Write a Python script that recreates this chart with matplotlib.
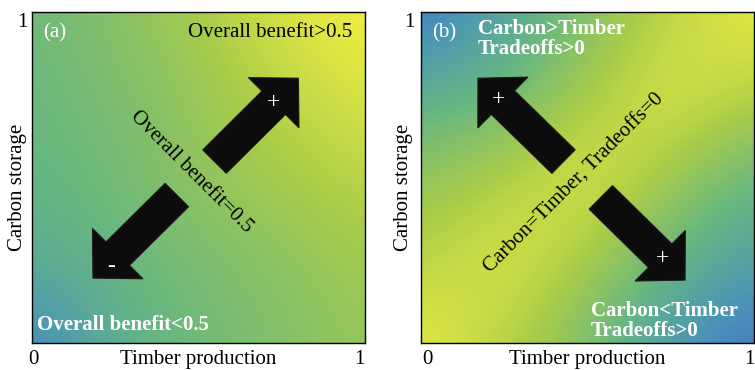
import numpy as np
import matplotlib
matplotlib.use("Agg")
import matplotlib.pyplot as plt
from matplotlib.colors import LinearSegmentedColormap

plt.rcParams['font.family'] = ['Liberation Serif', 'DejaVu Serif']

# ---- data ----
panel_labels = ["(a)", "(b)"]
x_label = "Timber production"
y_label = "Carbon storage"
tick_labels = ["0", "1"]

# background fields at nodes 0, .25, .5, .75, 1
# (rows: top -> bottom, cols: left -> right)
benefit_grid = np.array([
    [0.52, 0.62, 0.75, 0.92, 1.00],
    [0.50, 0.57, 0.68, 0.82, 0.93],
    [0.48, 0.53, 0.66, 0.74, 0.82],
    [0.40, 0.50, 0.56, 0.64, 0.72],
    [0.12, 0.42, 0.53, 0.60, 0.68],
])
tradeoff_grid = np.array([
    [0.05, 0.33, 0.60, 0.82, 0.97],
    [0.42, 0.50, 0.75, 0.95, 0.80],
    [0.65, 0.78, 0.95, 0.72, 0.48],
    [0.80, 0.95, 0.75, 0.48, 0.30],
    [0.97, 0.80, 0.58, 0.24, 0.06],
])

# arrows: (tail_x, tail_y, tip_x, tip_y, sign, sign_x, sign_y)
arrows_a = [(0.548, 0.548, 0.80, 0.80, "+", 0.724, 0.725),
            (0.435, 0.447, 0.183, 0.196, "-", 0.237, 0.23)]
arrows_b = [(0.428, 0.548, 0.171, 0.80, "+", 0.234, 0.737),
            (0.54, 0.44, 0.793, 0.19, "+", 0.724, 0.254)]

texts_a = [
    dict(s="Overall benefit>0.5", x=0.961, y=0.937, color="black", weight="normal", ha="right", rot=0),
    dict(s="Overall benefit<0.5", x=0.015, y=0.054, color="white", weight="bold", ha="left", rot=0),
    dict(s="Overall benefit=0.5", x=0.477, y=0.517, color="black", weight="normal", ha="center", rot=-45),
]
texts_b = [
    dict(s="Carbon>Timber\nTradeoffs>0", x=0.171, y=0.918, color="white", weight="bold", ha="left", rot=0),
    dict(s="Carbon<Timber\nTradeoffs>0", x=0.51, y=0.066, color="white", weight="bold", ha="left", rot=0),
    dict(s="Carbon=Timber, Tradeoffs=0", x=0.46, y=0.483, color="black", weight="normal", ha="center", rot=45),
]

# per-panel label offsets (axes fraction)
label_pos_a = dict(ylab_x=-0.045, ytick_x=-0.03, xtick0_x=0.003, xtick1_x=0.984)
label_pos_b = dict(ylab_x=-0.054, ytick_x=-0.036, xtick0_x=0.018, xtick1_x=0.987)

cmap = LinearSegmentedColormap.from_list("bg", [
    (0.00, (0.26, 0.40, 0.83)),
    (0.25, (0.30, 0.60, 0.70)),
    (0.50, (0.41, 0.72, 0.50)),
    (0.75, (0.66, 0.80, 0.29)),
    (1.00, (0.95, 0.94, 0.25)),
])

FS = 15
fig = plt.figure(figsize=(7.55, 3.70), dpi=100)
W, H = 755, 370

def make_axes(left_px):
    ax = fig.add_axes([left_px / W, (H - 343) / H, 333 / W, 331 / H])
    ax.set_xlim(0, 1)
    ax.set_ylim(0, 1)
    ax.set_xticks([])
    ax.set_yticks([])
    for s in ax.spines.values():
        s.set_linewidth(1.0)
        s.set_color("black")
    return ax

def draw_panel(ax, grid, arrows, texts, label, lp):
    n = grid.shape[0]
    half = 0.5 / (n - 1)
    ax.imshow(grid, extent=[-half, 1 + half, -half, 1 + half], origin="upper", cmap=cmap,
              vmin=0, vmax=1, interpolation="bicubic", aspect="auto")
    ax.set_xlim(0, 1)
    ax.set_ylim(0, 1)
    for tx, ty, hx, hy, sign, sx, sy in arrows:
        ax.arrow(tx, ty, hx - tx, hy - ty, width=0.10, head_width=0.215, head_length=0.105,
                 length_includes_head=True, fc="#0c0c0c", ec="#1c1c1c", lw=0.8, zorder=3)
        ax.text(sx, sy, sign, color="white", fontsize=17, ha="center", va="center", zorder=4)
    for t in texts:
        ax.text(t["x"], t["y"], t["s"], color=t["color"], fontweight=t["weight"], ha=t["ha"],
                va="center", rotation=t["rot"], rotation_mode="anchor", fontsize=FS,
                linespacing=1.0, zorder=5)
    ax.text(0.033, 0.937, label, color="white", fontsize=FS, ha="left", va="center", zorder=5)
    ax.text(0.5, -0.051, x_label, fontsize=FS, ha="center", va="center")
    ax.text(lp["ylab_x"], 0.47, y_label, fontsize=FS, ha="center", va="center", rotation=90)
    ax.text(lp["xtick0_x"], -0.051, tick_labels[0], fontsize=FS, ha="center", va="center")
    ax.text(lp["xtick1_x"], -0.051, tick_labels[1], fontsize=FS, ha="center", va="center")
    ax.text(lp["ytick_x"], 0.967, tick_labels[1], fontsize=FS, ha="center", va="center")

ax1 = make_axes(32)
draw_panel(ax1, benefit_grid, arrows_a, texts_a, panel_labels[0], label_pos_a)
ax2 = make_axes(421)
draw_panel(ax2, tradeoff_grid, arrows_b, texts_b, panel_labels[1], label_pos_b)

fig.savefig("out.png", dpi=100)
